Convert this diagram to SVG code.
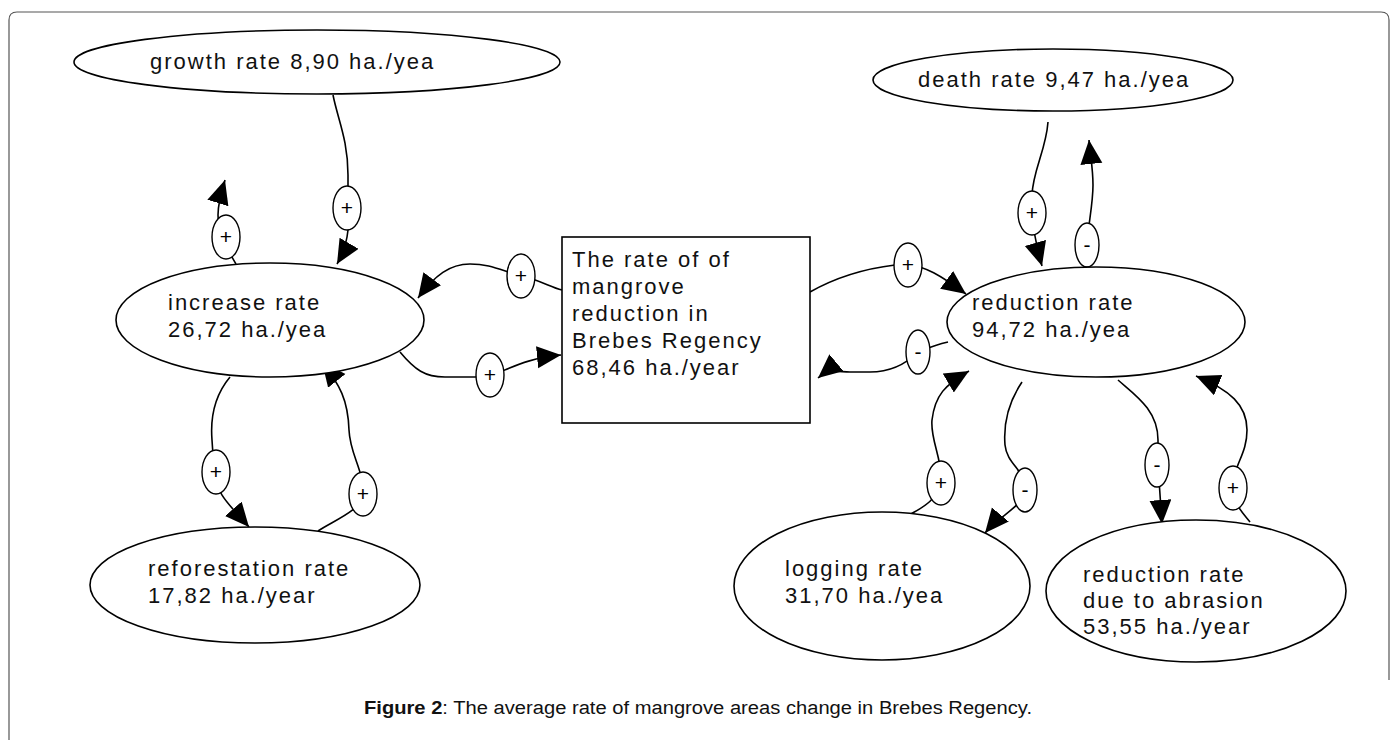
<svg xmlns="http://www.w3.org/2000/svg" width="1397" height="740" viewBox="0 0 1397 740">
<style>
.node{fill:#fff;stroke:#000;stroke-width:1.6}
.t{font-family:"Liberation Sans",Arial,sans-serif;font-size:22px;letter-spacing:2px;fill:#111}
.c{fill:none;stroke:#000;stroke-width:1.6;marker-end:url(#ah)}
.lab{fill:#fff;stroke:#000;stroke-width:1.4}
.lt{font-family:"Liberation Sans",Arial,sans-serif;font-size:21px;fill:#000;text-anchor:middle}
.cap{font-family:"Liberation Sans",Arial,sans-serif;font-size:18px;fill:#111}
</style>
<defs>
<marker id="ah" markerUnits="userSpaceOnUse" markerWidth="26" markerHeight="24" refX="24" refY="11" orient="auto">
<path d="M0,0 L24,11 L0,22 Z" fill="#000"/>
</marker>
</defs>
<rect width="1397" height="740" fill="#fff"/>
<path d="M9,740 V20 Q9,12 17,12 H1381 Q1389,12 1389,20 V680" fill="none" stroke="#555" stroke-width="1.2"/>

<g id="connectors">
<path class="c" d="M236,264 C228,250 218,235 218,215 C218,205 220,196 225,180"/>
<path class="c" d="M333,95 C338,120 348,140 348,175 L348,230 C347,240 344,252 337,264"/>
<path class="c" d="M230,377 C215,395 210,415 212,440 L214,470 C216,495 230,505 249,527"/>
<path class="c" d="M318,531 C335,520 362,510 363,494 C364,470 350,455 349,430 C348,400 340,385 322,362"/>
<path class="c" d="M562,290 C550,287 540,280 521,276 C500,270 490,264 470,264 C450,264 435,275 418,298"/>
<path class="c" d="M400,352 C415,370 425,377 445,377 L475,377 C485,377 490,375 495,374 C515,366 530,358 561,355"/>
<path class="c" d="M810,292 C840,275 870,268 895,265 L908,265 C925,266 940,275 966,294"/>
<path class="c" d="M948,342 C935,345 928,348 918,352 C905,365 890,372 870,372 L850,372 C838,372 830,368 818,378"/>
<path class="c" d="M1048,122 C1046,150 1033,170 1032,195 L1032,215 C1034,235 1036,245 1042,266"/>
<path class="c" d="M1087,268 L1087,245 C1088,225 1093,205 1093,185 C1093,170 1091,160 1089,140"/>
<path class="c" d="M905,518 C915,510 935,505 941,483 C943,460 930,440 932,420 C935,395 945,385 969,371"/>
<path class="c" d="M1022,382 C1010,400 1003,420 1005,445 C1007,465 1026,470 1025,490 C1025,505 1000,515 985,533"/>
<path class="c" d="M1118,380 C1135,395 1158,410 1158,440 L1158,465 L1162,524"/>
<path class="c" d="M1250,522 C1245,515 1233,505 1233,488 C1233,465 1247,455 1247,430 C1247,405 1230,390 1196,376"/>

<ellipse class="lab" cx="226" cy="237" rx="14" ry="22"/><text class="lt" x="226" y="244">+</text>
<ellipse class="lab" cx="347" cy="208" rx="14" ry="22"/><text class="lt" x="347" y="215">+</text>
<ellipse class="lab" cx="216" cy="472" rx="14" ry="22"/><text class="lt" x="216" y="479">+</text>
<ellipse class="lab" cx="363" cy="494" rx="14" ry="22"/><text class="lt" x="363" y="501">+</text>
<ellipse class="lab" cx="521" cy="276" rx="14" ry="22"/><text class="lt" x="521" y="283">+</text>
<ellipse class="lab" cx="490" cy="375" rx="14" ry="22"/><text class="lt" x="490" y="382">+</text>
<ellipse class="lab" cx="908" cy="265" rx="14" ry="22"/><text class="lt" x="908" y="272">+</text>
<ellipse class="lab" cx="918" cy="352" rx="12" ry="22"/><text class="lt" x="918" y="359">-</text>
<ellipse class="lab" cx="1032" cy="213" rx="14" ry="22"/><text class="lt" x="1032" y="220">+</text>
<ellipse class="lab" cx="1087" cy="245" rx="12" ry="22"/><text class="lt" x="1087" y="252">-</text>
<ellipse class="lab" cx="941" cy="483" rx="14" ry="22"/><text class="lt" x="941" y="490">+</text>
<ellipse class="lab" cx="1025" cy="490" rx="12" ry="22"/><text class="lt" x="1025" y="497">-</text>
<ellipse class="lab" cx="1157" cy="465" rx="12" ry="22"/><text class="lt" x="1157" y="472">-</text>
<ellipse class="lab" cx="1233" cy="488" rx="14" ry="22"/><text class="lt" x="1233" y="495">+</text>
</g>

<g id="growth">
<ellipse class="node" cx="317" cy="62" rx="243" ry="32"/>
<text class="t" x="150" y="69">growth rate 8,90 ha./yea</text>
</g>
<g id="increase">
<ellipse class="node" cx="270" cy="320" rx="154" ry="57"/>
<text class="t" x="168" y="310">increase rate</text>
<text class="t" x="168" y="337">26,72 ha./yea</text>
</g>
<g id="reforestation">
<ellipse class="node" cx="255" cy="585" rx="165" ry="58"/>
<text class="t" x="148" y="576">reforestation rate</text>
<text class="t" x="148" y="603">17,82 ha./year</text>
</g>
<g id="center">
<rect class="node" x="562" y="237" width="248" height="186"/>
<text class="t" x="572" y="267">The rate of of</text>
<text class="t" x="572" y="294">mangrove</text>
<text class="t" x="572" y="321">reduction in</text>
<text class="t" x="572" y="348">Brebes Regency</text>
<text class="t" x="572" y="375">68,46 ha./year</text>
</g>
<g id="death">
<ellipse class="node" cx="1053" cy="80" rx="180" ry="31"/>
<text class="t" x="918" y="87">death rate 9,47 ha./yea</text>
</g>
<g id="reduction">
<ellipse class="node" cx="1096" cy="322" rx="149" ry="55"/>
<text class="t" x="972" y="310">reduction rate</text>
<text class="t" x="972" y="337">94,72 ha./yea</text>
</g>
<g id="logging">
<ellipse class="node" cx="882" cy="586" rx="148" ry="74"/>
<text class="t" x="785" y="576">logging rate</text>
<text class="t" x="785" y="603">31,70 ha./yea</text>
</g>
<g id="abrasion">
<ellipse class="node" cx="1196" cy="591" rx="150" ry="71"/>
<text class="t" x="1083" y="582">reduction rate</text>
<text class="t" x="1083" y="608">due to abrasion</text>
<text class="t" x="1083" y="634">53,55 ha./year</text>
</g>

<g id="caption">
<text class="cap" x="364" y="714" textLength="668" lengthAdjust="spacingAndGlyphs"><tspan font-weight="bold">Figure 2</tspan>: The average rate of mangrove areas change in Brebes Regency.</text>
</g>
</svg>
